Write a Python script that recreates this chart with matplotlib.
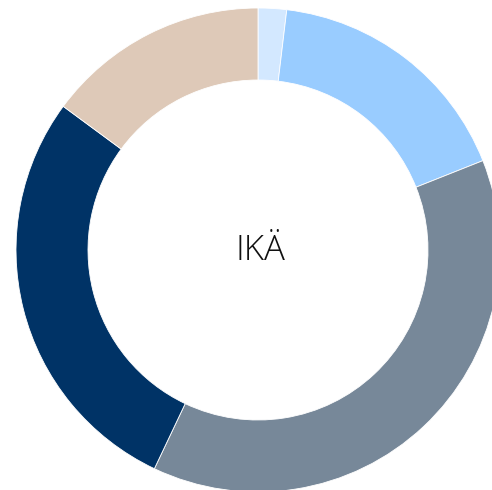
import matplotlib
matplotlib.use("Agg")
import matplotlib.pyplot as plt

categories = ["alle 18", "18-29", "30-44", "45-59", "60+"]
values = [1.9, 17.1, 38.1, 28.1, 14.9]
colors = ["#d3e8ff", "#99ccff", "#778899", "#003366", "#dec9b8"]
center_label = "IKÄ"

fig = plt.figure(figsize=(4.92, 4.90), dpi=100)
ax = fig.add_axes([0, 0, 1, 1])
ax.pie(values, colors=colors, startangle=90, counterclock=False,
       radius=242, center=(0, 0),
       wedgeprops=dict(width=72, edgecolor="white", linewidth=0.6))
ax.set_xlim(-258, 234)
ax.set_ylim(-240, 250)
ax.set_aspect("equal")
ax.axis("off")
ax.text(2, -1, center_label, ha="center", va="center", fontsize=25,
        family=["Open Sans", "DejaVu Sans"], fontweight="light", color="#111111")
fig.savefig("out.png", dpi=100)
